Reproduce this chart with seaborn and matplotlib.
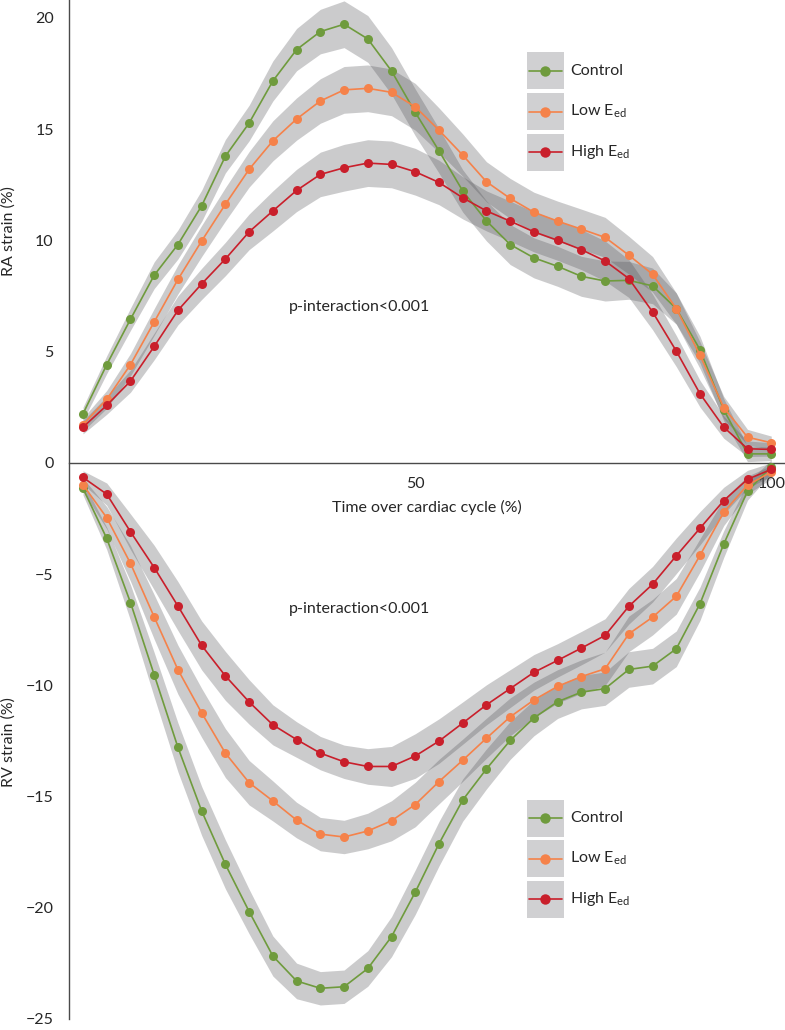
import numpy as np
import pandas as pd
import matplotlib
matplotlib.use("Agg")
import matplotlib.pyplot as plt
import matplotlib.transforms as mtransforms
import seaborn as sns
from matplotlib.lines import Line2D
from matplotlib.patches import Rectangle

# ---------------- data ----------------
TIME_INDEX = list(range(30))
XTICK_LABELS = {14: "50", 29: "100"}
GROUPS = ["Control", "Low Eed", "High Eed"]
GROUP_LABELS = ["Control", r"Low E$_{ed}$", r"High E$_{ed}$"]
COLORS = ["#6f9b3d", "#f5824a", "#c91f2b"]

RA_CONTROL = [2.2, 4.41, 6.45, 8.43, 9.81, 11.55, 13.78, 15.27, 17.16, 18.57, 19.38, 19.71, 19.05, 17.61, 15.75,
              14.02, 12.22, 10.87, 9.81, 9.21, 8.83, 8.38, 8.17, 8.2, 7.95, 6.93, 5.08, 2.38, 0.4, 0.4]
RA_LOW = [1.72, 2.85, 4.41, 6.33, 8.24, 9.97, 11.62, 13.19, 14.47, 15.45, 16.26, 16.76, 16.83, 16.65, 16.0,
          14.95, 13.83, 12.63, 11.88, 11.26, 10.86, 10.5, 10.13, 9.33, 8.47, 6.93, 4.83, 2.48, 1.15, 0.9]
RA_HIGH = [1.6, 2.58, 3.67, 5.23, 6.85, 8.04, 9.16, 10.38, 11.32, 12.24, 12.96, 13.26, 13.47, 13.41, 13.08,
           12.6, 11.91, 11.32, 10.86, 10.38, 10.0, 9.58, 9.07, 8.28, 6.78, 5.02, 3.1, 1.6, 0.63, 0.6]

RV_CONTROL = [-1.15, -3.4, -6.28, -9.53, -12.79, -15.65, -18.05, -20.17, -22.17, -23.29, -23.62, -23.55, -22.73,
              -21.3, -19.3, -17.12, -15.16, -13.76, -12.48, -11.47, -10.74, -10.31, -10.15, -9.29, -9.14, -8.36,
              -6.33, -3.65, -1.28, -0.17]
RV_LOW = [-0.99, -2.47, -4.52, -6.93, -9.3, -11.24, -13.05, -14.38, -15.2, -16.06, -16.69, -16.82, -16.55, -16.09,
          -15.36, -14.33, -13.37, -12.38, -11.42, -10.66, -10.05, -9.61, -9.26, -7.69, -6.94, -6.0, -4.16, -2.22,
          -1.0, -0.42]
RV_HIGH = [-0.66, -1.41, -3.1, -4.71, -6.44, -8.21, -9.58, -10.75, -11.78, -12.44, -13.05, -13.44, -13.65, -13.65,
           -13.18, -12.51, -11.7, -10.88, -10.15, -9.42, -8.88, -8.33, -7.76, -6.45, -5.46, -4.18, -2.94, -1.7,
           -0.74, -0.3]

# confidence band half-widths (approximate)
RA_CI = [0.3, 0.4, 0.5, 0.6, 0.65, 0.7, 0.75, 0.8, 0.9, 0.95, 1.0, 1.05, 1.05, 1.05, 1.05,
         1.0, 0.95, 0.9, 0.9, 0.9, 0.9, 0.9, 0.9, 0.85, 0.8, 0.7, 0.6, 0.5, 0.35, 0.3]
RV_CI = [0.3, 0.5, 0.8, 1.0, 1.1, 1.1, 1.1, 1.0, 0.9, 0.8, 0.75, 0.75, 0.8, 0.9, 1.0,
         1.0, 0.95, 0.9, 0.85, 0.8, 0.75, 0.75, 0.75, 0.8, 0.8, 0.8, 0.75, 0.6, 0.4, 0.3]

ANNOTATION = "p-interaction<0.001"
XLABEL = "Time over cardiac cycle (%)"
YLABEL_TOP = "RA strain (%)"
YLABEL_BOTTOM = "RV strain (%)"

# ---------------- style ----------------
sns.set_style("white")
FONT = ["Lato", "DejaVu Sans"]
plt.rcParams["font.family"] = FONT
plt.rcParams["mathtext.default"] = "regular"
TEXT_C = "#262626"
SPINE_C = "#4a4a4a"
BAND_C = "#545458"
BOX_C = "#d0d0d2"
FS = 11.5

rows = []
for g, ra, rv in zip(GROUPS, [RA_CONTROL, RA_LOW, RA_HIGH], [RV_CONTROL, RV_LOW, RV_HIGH]):
    for t, a, v, ca, cv in zip(TIME_INDEX, ra, rv, RA_CI, RV_CI):
        rows.append(dict(group=g, t=t, RA=a, RV=v, ci_ra=ca, ci_rv=cv))
df = pd.DataFrame(rows)

W, H = 785, 1030
fig = plt.figure(figsize=(W / 100, H / 100), dpi=100)
ax = fig.add_axes([69 / W, 1 - 1019 / H, (W - 69) / W, 1019 / H])

# bands
for g in GROUPS:
    d = df[df.group == g]
    ax.fill_between(d.t, d.RA - d.ci_ra, d.RA + d.ci_ra, color=BAND_C, alpha=0.3, lw=0, zorder=1)
    ax.fill_between(d.t, d.RV - d.ci_rv, d.RV + d.ci_rv, color=BAND_C, alpha=0.3, lw=0, zorder=1)

palette = dict(zip(GROUPS, COLORS))
for col in ["RA", "RV"]:
    sns.lineplot(data=df, x="t", y=col, hue="group", hue_order=GROUPS, palette=palette,
                 marker="o", markersize=6.5, markeredgewidth=0, linewidth=1.2,
                 errorbar=None, legend=False, ax=ax, zorder=3)

ax.set_xlim(-0.59, 29.58)
ax.set_ylim(-25, 20.8)
ax.set_xlabel("")
ax.set_ylabel("")

for s in ["top", "right"]:
    ax.spines[s].set_visible(False)
ax.spines["bottom"].set_position(("data", 0))
for s in ["left", "bottom"]:
    ax.spines[s].set_color(SPINE_C)
    ax.spines[s].set_linewidth(1.0)

ax.set_xticks(TIME_INDEX)
ax.set_xticklabels([XTICK_LABELS.get(t, "") for t in TIME_INDEX])
ax.set_yticks(np.arange(-25, 21, 5))
ax.tick_params(axis="both", direction="out", length=6, width=1.0, color=SPINE_C,
               labelsize=FS, labelcolor=TEXT_C)
ax.tick_params(axis="x", pad=4)
ax.tick_params(axis="y", pad=5)

# axis titles
blend = mtransforms.blended_transform_factory(ax.transAxes, ax.transData)
ax.text(0.5, -2.0, XLABEL, transform=blend, ha="center", va="center", fontsize=FS, color=TEXT_C)
fig.text(9 / W, 1 - 231 / H, YLABEL_TOP, rotation=90, ha="center", va="center", fontsize=FS, color=TEXT_C)
fig.text(9 / W, 1 - 742 / H, YLABEL_BOTTOM, rotation=90, ha="center", va="center", fontsize=FS, color=TEXT_C)

# annotations
ax.text(11.67, 7.0, ANNOTATION, ha="center", va="center", fontsize=FS, color=TEXT_C)
ax.text(11.67, -6.55, ANNOTATION, ha="center", va="center", fontsize=FS, color=TEXT_C)

# legends (drawn as keys: grey square, line with marker, label)
def draw_legend(top_px):
    box = 37.0
    step = 40.5
    x0 = 526.5
    for i, (c, lab) in enumerate(zip(COLORS, GROUP_LABELS)):
        ytop = top_px + i * step
        fig.add_artist(Rectangle((x0 / W, 1 - (ytop + box) / H), box / W, box / H,
                                 transform=fig.transFigure, facecolor=BOX_C, edgecolor="none"))
        yc = 1 - (ytop + box / 2) / H
        fig.add_artist(Line2D([(x0 + 2) / W, (x0 + box - 2) / W], [yc, yc], transform=fig.transFigure,
                              color=c, linewidth=1.2))
        fig.add_artist(Line2D([(x0 + box / 2) / W], [yc], transform=fig.transFigure, color=c,
                              marker="o", markersize=7.5, markeredgewidth=0, linestyle="none"))
        fig.text((x0 + box + 7) / W, yc, lab, ha="left", va="center", fontsize=FS, color=TEXT_C)

draw_legend(52.5)
draw_legend(799.5)

fig.savefig("out.png", dpi=100)
